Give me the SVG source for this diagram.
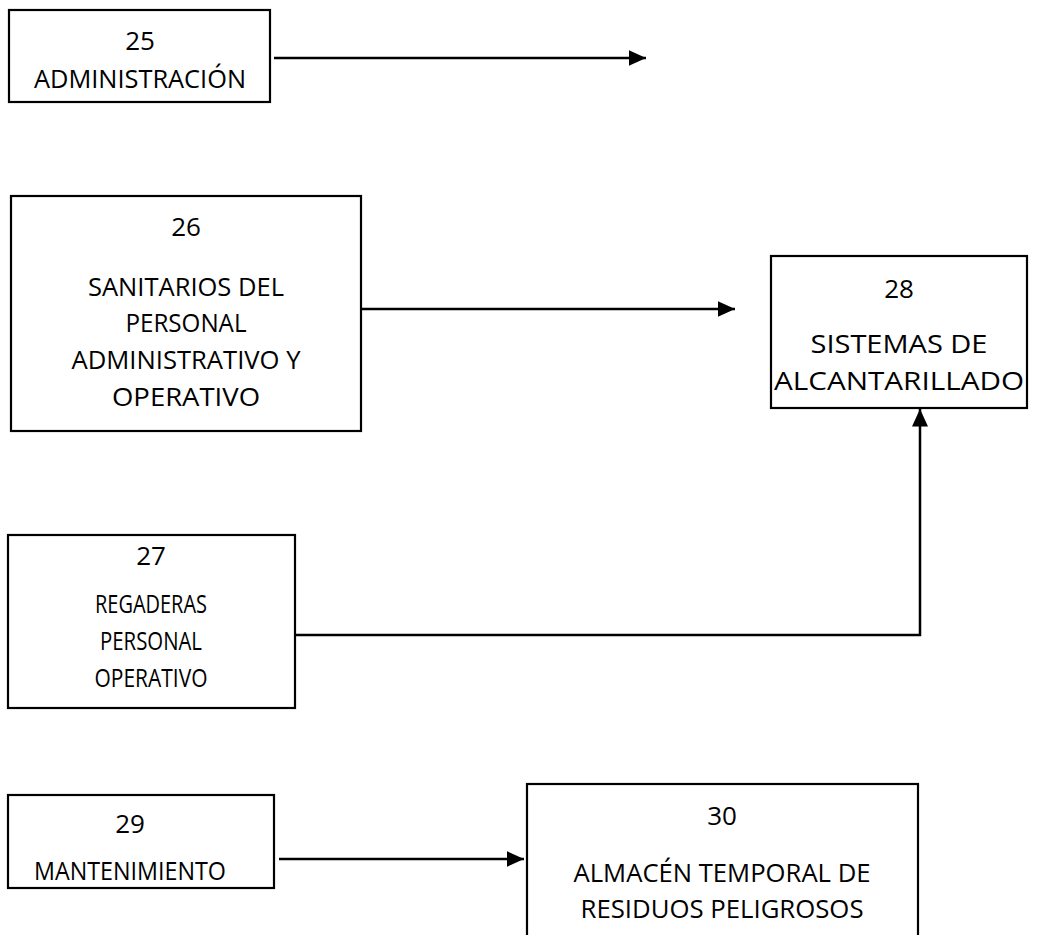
<svg xmlns="http://www.w3.org/2000/svg" width="1055" height="935" viewBox="0 0 1055 935">
<defs>
<style>
.box{fill:#fff;stroke:#000;stroke-width:2.2}
.t{font-family:"Open Sans","Noto Sans","Liberation Sans",sans-serif;font-size:26px;fill:#000;text-anchor:middle}
.c{fill:none;stroke:#000;stroke-width:2.5}
</style>
<marker id="ah" viewBox="0 0 10 10" refX="10" refY="5" markerWidth="7" markerHeight="6.4" markerUnits="strokeWidth" orient="auto" preserveAspectRatio="none">
<path d="M0,0 L10,5 L0,10 Z" fill="#000"/>
</marker>
</defs>
<rect width="1055" height="935" fill="#fff"/>
<g id="n25">
<rect class="box" x="9" y="10" width="261" height="92"/>
<text class="t" x="140" y="50">25</text>
<text class="t" x="140" y="88" textLength="212" lengthAdjust="spacingAndGlyphs">ADMINISTRACIÓN</text>
</g>
<g id="n26">
<rect class="box" x="11" y="196" width="350" height="235"/>
<text class="t" x="186" y="236">26</text>
<text class="t" x="186" y="296" textLength="196" lengthAdjust="spacingAndGlyphs">SANITARIOS DEL</text>
<text class="t" x="186" y="332" textLength="121" lengthAdjust="spacingAndGlyphs">PERSONAL</text>
<text class="t" x="186" y="369" textLength="229" lengthAdjust="spacingAndGlyphs">ADMINISTRATIVO Y</text>
<text class="t" x="186" y="406" textLength="148" lengthAdjust="spacingAndGlyphs">OPERATIVO</text>
</g>
<g id="n28">
<rect class="box" x="771" y="256" width="256" height="152"/>
<text class="t" x="899" y="298">28</text>
<text class="t" x="899" y="353" textLength="177" lengthAdjust="spacingAndGlyphs">SISTEMAS DE</text>
<text class="t" x="899" y="390" textLength="250" lengthAdjust="spacingAndGlyphs">ALCANTARILLADO</text>
</g>
<g id="n27">
<rect class="box" x="8" y="535" width="287" height="173"/>
<text class="t" x="151" y="565">27</text>
<text class="t" x="151" y="613" textLength="112" lengthAdjust="spacingAndGlyphs">REGADERAS</text>
<text class="t" x="151" y="650" textLength="102" lengthAdjust="spacingAndGlyphs">PERSONAL</text>
<text class="t" x="151" y="687" textLength="113" lengthAdjust="spacingAndGlyphs">OPERATIVO</text>
</g>
<g id="n29">
<rect class="box" x="8" y="795" width="266" height="93"/>
<text class="t" x="130" y="833">29</text>
<text class="t" x="130" y="880" textLength="192" lengthAdjust="spacingAndGlyphs">MANTENIMIENTO</text>
</g>
<g id="n30">
<rect class="box" x="527" y="784" width="391" height="160"/>
<text class="t" x="722" y="825">30</text>
<text class="t" x="722" y="882" textLength="297" lengthAdjust="spacingAndGlyphs">ALMACÉN TEMPORAL DE</text>
<text class="t" x="722" y="918" textLength="283" lengthAdjust="spacingAndGlyphs">RESIDUOS PELIGROSOS</text>
</g>
<g id="connectors">
<path class="c" d="M274,58 H646" marker-end="url(#ah)"/>
<path class="c" d="M361,309 H735" marker-end="url(#ah)"/>
<path class="c" d="M295,635 H920 V409" marker-end="url(#ah)"/>
<path class="c" d="M279,859 H524" marker-end="url(#ah)"/>
</g>
</svg>
